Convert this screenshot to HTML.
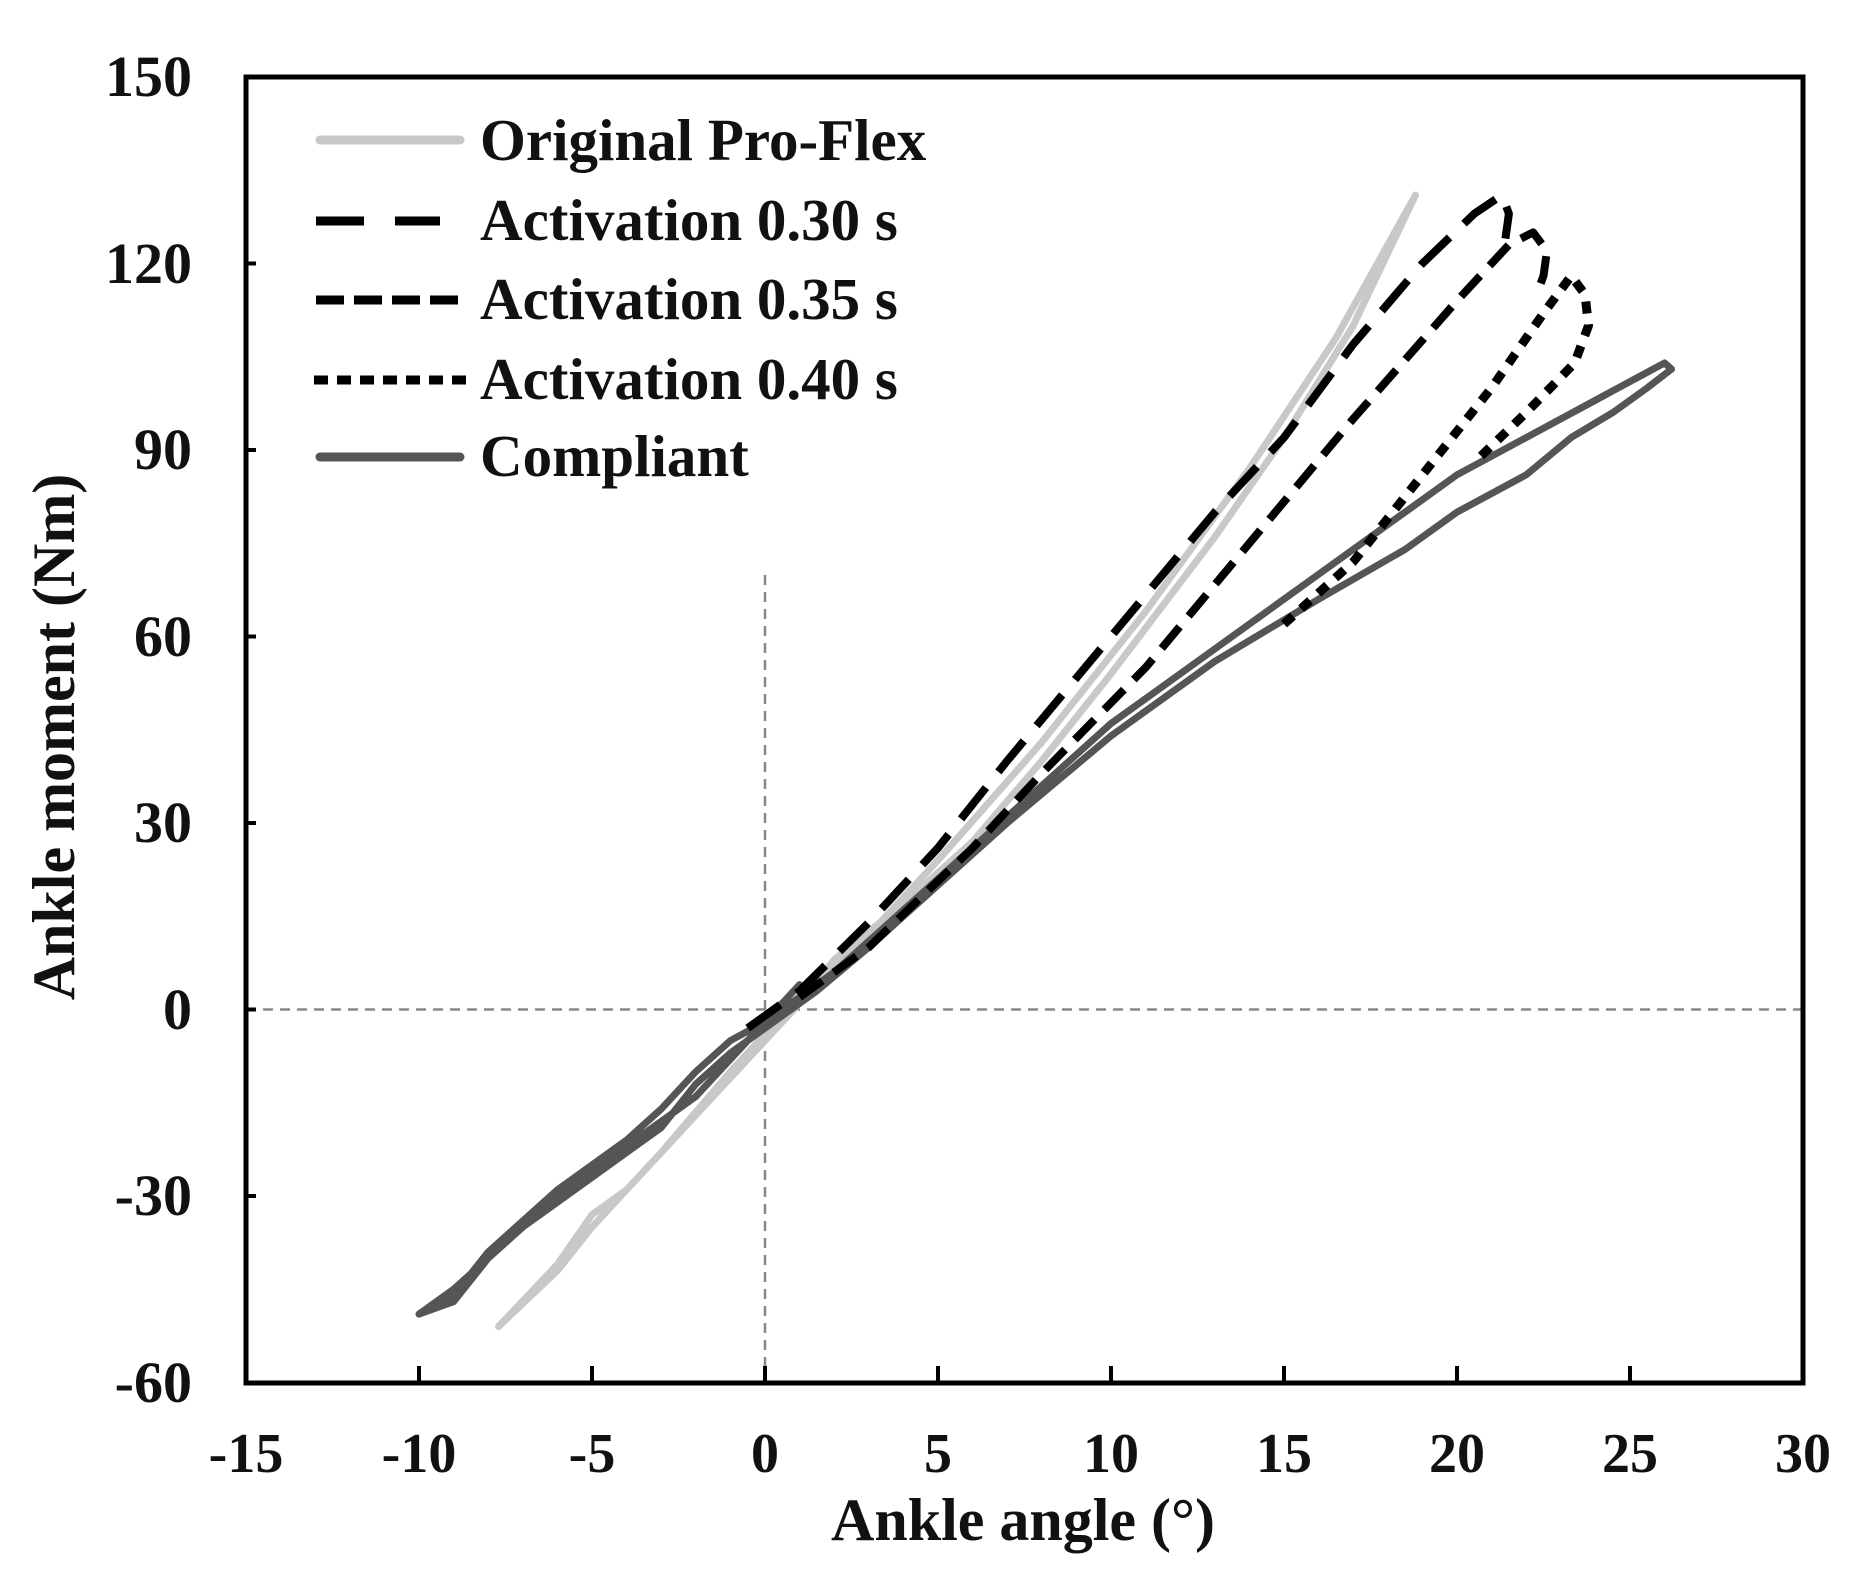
<!DOCTYPE html>
<html><head><meta charset="utf-8"><style>
html,body{margin:0;padding:0;background:#fff}
svg{display:block}
text{font-family:"Liberation Serif",serif;font-weight:bold;fill:#111}
</style></head><body>
<svg width="1860" height="1576" viewBox="0 0 1860 1576" xmlns="http://www.w3.org/2000/svg">
<rect width="1860" height="1576" fill="#fff"/>
<line x1="765" y1="575" x2="765" y2="1383" stroke="#888" stroke-width="2.5" stroke-dasharray="10,7"/>
<line x1="246" y1="1009.5" x2="1803" y2="1009.5" stroke="#888" stroke-width="2.5" stroke-dasharray="10,7"/>
<g transform="translate(765,1009.5) scale(34.6,-6.217)" fill="none" stroke-linejoin="round" stroke-linecap="round">
<polyline vector-effect="non-scaling-stroke" stroke="#c8c8c8" stroke-width="7" points="-7.7,-51 -6,-41 -5,-33 -4,-29 -3,-23 -1,-10 0,-4 1,1 2,8 4,17 6,27 8,40 10,54 13,76 15,92 17,110 18.8,131 18.4,127 16.5,108 14,87 11,64 8,43 5,24 3,12 1,1 0,-5 -1,-11 -3,-23 -5,-35 -6,-42 -7.7,-51"/>
<polyline vector-effect="non-scaling-stroke" stroke="#555" stroke-width="7" points="1,4 0,-2 -1,-5 -2,-10 -3,-16 -4,-21 -6,-29 -8,-39 -9,-46 -10,-49 -9,-47 -8,-40 -6,-30 -4,-22 -2,-14 -1,-8 0,-2 2,6 4,16 6,26 8,36 10,46 13,58 16,70 18.5,80 20,86 22,92 24,98 25,101 26,104 26.2,103 25.5,100 24.5,96 23.3,92 22,86 20,80 18.5,74 16,66 13,56 10,44 7,30 5,20 3,10 1.5,3 0,-3 -1,-7 -2,-12 -3,-19 -5,-27 -7,-35 -9,-45 -10,-49"/>
<polyline vector-effect="non-scaling-stroke" stroke="#000" stroke-width="8" stroke-linecap="butt" stroke-dasharray="40,20" points="-0.5,-3 1,3 3,14 5,26 7,40 10,60 13,80 15,92 17,107 19,120 20.5,128 21.3,131 21.5,128 21.4,124"/>
<polyline vector-effect="non-scaling-stroke" stroke="#000" stroke-width="8" stroke-linecap="butt" stroke-dasharray="28,14" points="1,2 3,10 6,26 8,38 11,55 14,75 17,95 20,114 21.5,123 22.2,125 22.6,122 22.5,118 22.3,115"/>
<polyline vector-effect="non-scaling-stroke" stroke="#000" stroke-width="9" stroke-linecap="butt" stroke-dasharray="12,11" points="15,62 17,72 19,86 21,100 22.5,112 23.3,118 23.7,115 23.8,110 23.4,104 22,96 20.5,88"/>
</g>
<rect x="246" y="77" width="1557" height="1306" fill="none" stroke="#000" stroke-width="5"/>
<g stroke="#000" stroke-width="4">
<line x1="246" y1="263.5" x2="256" y2="263.5"/><line x1="246" y1="450" x2="256" y2="450"/><line x1="246" y1="636.5" x2="256" y2="636.5"/><line x1="246" y1="823" x2="256" y2="823"/><line x1="246" y1="1009.5" x2="256" y2="1009.5"/><line x1="246" y1="1196" x2="256" y2="1196"/>
<line x1="419" y1="1383" x2="419" y2="1366"/><line x1="592" y1="1383" x2="592" y2="1366"/><line x1="765" y1="1383" x2="765" y2="1366"/><line x1="938" y1="1383" x2="938" y2="1366"/><line x1="1111" y1="1383" x2="1111" y2="1366"/><line x1="1284" y1="1383" x2="1284" y2="1366"/><line x1="1457" y1="1383" x2="1457" y2="1366"/><line x1="1630" y1="1383" x2="1630" y2="1366"/>
</g>
<g font-size="58" text-anchor="end">
<text x="192" y="96">150</text><text x="192" y="283">120</text><text x="192" y="469">90</text><text x="192" y="656">60</text><text x="192" y="842">30</text><text x="192" y="1029">0</text><text x="192" y="1215">-30</text><text x="192" y="1402">-60</text>
</g>
<g font-size="56" text-anchor="middle">
<text x="246" y="1472">-15</text><text x="419" y="1472">-10</text><text x="592" y="1472">-5</text><text x="765" y="1472">0</text><text x="938" y="1472">5</text><text x="1111" y="1472">10</text><text x="1284" y="1472">15</text><text x="1457" y="1472">20</text><text x="1630" y="1472">25</text><text x="1803" y="1472">30</text>
</g>
<text x="1023" y="1540" font-size="60" text-anchor="middle">Ankle angle (°)</text>
<text transform="translate(74,737) rotate(-90)" font-size="60" text-anchor="middle">Ankle moment (Nm)</text>
<g stroke-width="9">
<line x1="320" y1="140" x2="460" y2="140" stroke="#c8c8c8" stroke-linecap="round"/>
<line x1="316" y1="221" x2="440" y2="221" stroke="#000" stroke-dasharray="48,31"/>
<line x1="316" y1="300" x2="464" y2="300" stroke="#000" stroke-dasharray="28,10"/>
<line x1="314" y1="380" x2="466" y2="380" stroke="#000" stroke-dasharray="14,9"/>
<line x1="320" y1="457" x2="460" y2="457" stroke="#555" stroke-linecap="round"/>
</g>
<g font-size="59">
<text x="480" y="160">Original Pro-Flex</text>
<text x="480" y="240">Activation 0.30 s</text>
<text x="480" y="319">Activation 0.35 s</text>
<text x="480" y="399">Activation 0.40 s</text>
<text x="480" y="476">Compliant</text>
</g>
</svg>
</body></html>
